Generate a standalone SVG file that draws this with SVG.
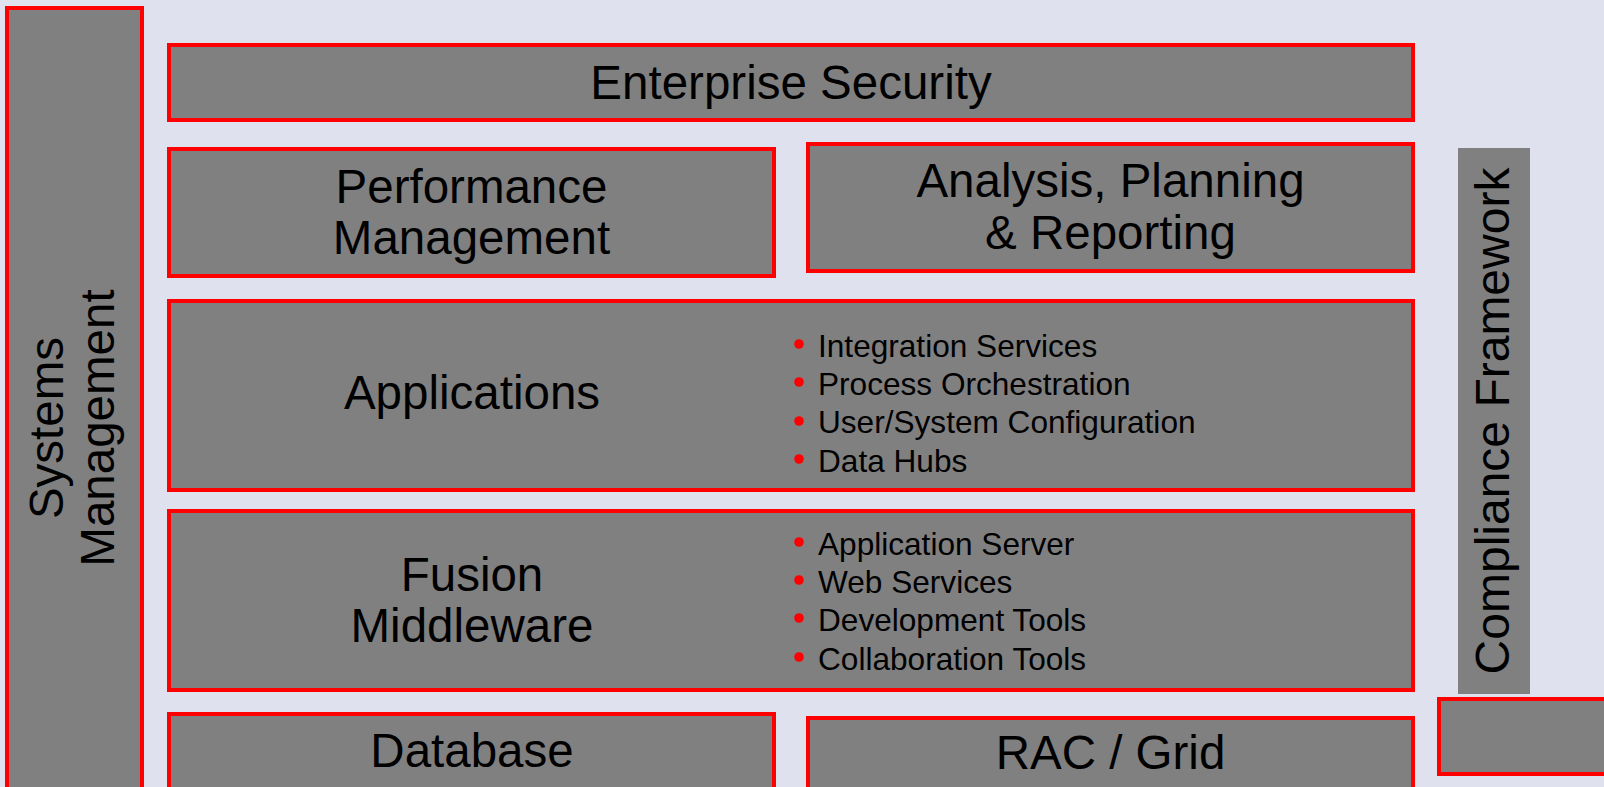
<svg xmlns="http://www.w3.org/2000/svg" width="1604" height="787" viewBox="0 0 1604 787">
<style>
.box{fill:#808080;stroke:#FF0000;stroke-width:4}
.plain{fill:#808080}
.t{font-family:"Liberation Sans",Arial,sans-serif;font-size:47.5px;fill:#000;text-anchor:middle}
.b{font-family:"Liberation Sans",Arial,sans-serif;font-size:31.6px;fill:#000}
.dot{fill:#FF0000}
</style>
<rect x="0" y="0" width="1604" height="787" fill="#DFE2EE"/>
<g id="systems-management">
<rect class="box" x="7" y="8" width="135" height="850"/>
<g transform="translate(0,428) rotate(-90)">
<text class="t" x="0" y="63">Systems</text>
<text class="t" x="0" y="114">Management</text>
</g>
</g>
<g id="enterprise-security">
<rect class="box" x="169" y="45" width="1244" height="75"/>
<text class="t" x="791" y="99">Enterprise Security</text>
</g>
<g id="performance-management">
<rect class="box" x="169" y="149" width="605" height="127"/>
<text class="t" x="471.5" y="203">Performance</text>
<text class="t" x="471.5" y="254">Management</text>
</g>
<g id="analysis-planning-reporting">
<rect class="box" x="808" y="144" width="605" height="127"/>
<text class="t" x="1110.5" y="197">Analysis, Planning</text>
<text class="t" x="1110.5" y="249">&amp; Reporting</text>
</g>
<g id="applications">
<rect class="box" x="169" y="301" width="1244" height="189"/>
<text class="t" x="472" y="409">Applications</text>
<circle class="dot" cx="799" cy="344" r="4.8"/>
<circle class="dot" cx="799" cy="382" r="4.8"/>
<circle class="dot" cx="799" cy="421" r="4.8"/>
<circle class="dot" cx="799" cy="459" r="4.8"/>
<text class="b" x="818" y="357">Integration Services</text>
<text class="b" x="818" y="395">Process Orchestration</text>
<text class="b" x="818" y="433">User/System Configuration</text>
<text class="b" x="818" y="472">Data Hubs</text>
</g>
<g id="fusion-middleware">
<rect class="box" x="169" y="511" width="1244" height="179"/>
<text class="t" x="472" y="591">Fusion</text>
<text class="t" x="472" y="642">Middleware</text>
<circle class="dot" cx="799" cy="542" r="4.8"/>
<circle class="dot" cx="799" cy="580" r="4.8"/>
<circle class="dot" cx="799" cy="618" r="4.8"/>
<circle class="dot" cx="799" cy="657" r="4.8"/>
<text class="b" x="818" y="555">Application Server</text>
<text class="b" x="818" y="593">Web Services</text>
<text class="b" x="818" y="631">Development Tools</text>
<text class="b" x="818" y="670">Collaboration Tools</text>
</g>
<g id="database">
<rect class="box" x="169" y="714" width="605" height="100"/>
<text class="t" x="472" y="767">Database</text>
</g>
<g id="rac-grid">
<rect class="box" x="808" y="718" width="605" height="100"/>
<text class="t" x="1110.5" y="769">RAC / Grid</text>
</g>
<g id="compliance-framework">
<rect class="plain" x="1458" y="148" width="72" height="546"/>
<g transform="translate(0,421) rotate(-90)">
<text class="t" x="0" y="1509" style="font-size:48px">Compliance Framework</text>
</g>
</g>
<g id="bottom-right-box">
<rect class="box" x="1439" y="699" width="200" height="75"/>
</g>
<g id="connectors"></g>
</svg>
